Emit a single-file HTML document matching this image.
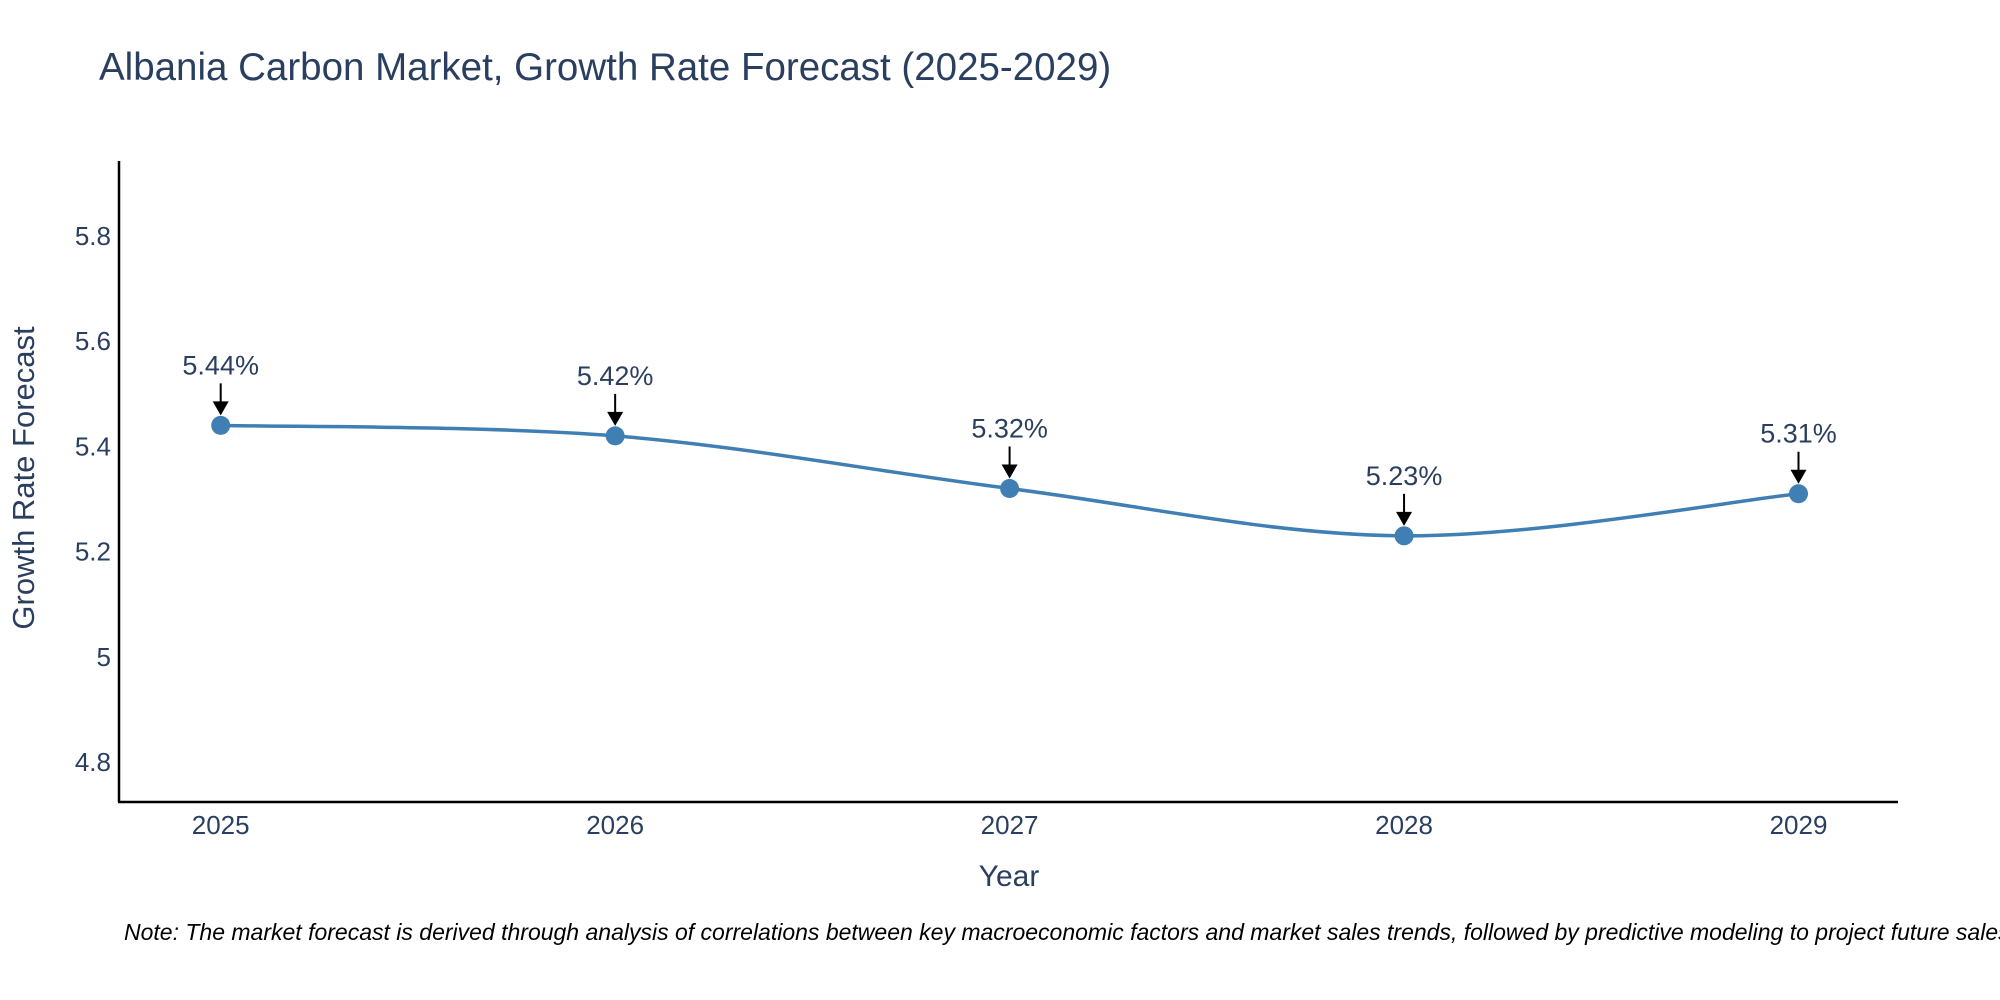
<!DOCTYPE html>
<html><head><meta charset="utf-8"><style>
body{margin:0;background:#fff;}
svg{display:block;font-family:"Liberation Sans",sans-serif;}
</style></head><body>
<svg width="2000" height="1000" viewBox="0 0 2000 1000">
<text x="99" y="80" font-size="38.5" fill="#2a3f5f">Albania Carbon Market, Growth Rate Forecast (2025-2029)</text>
<g id="yticks"></g><g id="xticks"></g>
<line x1="119" y1="161" x2="119" y2="802" stroke="#000" stroke-width="2.5"/>
<line x1="118" y1="802" x2="1898" y2="802" stroke="#000" stroke-width="2.5"/>
<path id="line" fill="none" stroke="#3f7fb3" stroke-width="3.5"/>
<g id="marks"></g>
<text x="26" y="478" font-size="31" fill="#2a3f5f" text-anchor="middle" transform="rotate(-90 26 478)" dominant-baseline="middle">Growth Rate Forecast</text>
<text x="1009" y="886" font-size="30" fill="#2a3f5f" text-anchor="middle">Year</text>
<text x="124" y="940" font-size="23" font-style="italic" fill="#000">Note: The market forecast is derived through analysis of correlations between key macroeconomic factors and market sales trends, followed by predictive modeling to project future sales.</text>
</svg>
<script>
const years=[2025,2026,2027,2028,2029];
const values=[5.44,5.42,5.32,5.23,5.31];
const labels=["5.44%","5.42%","5.32%","5.23%","5.31%"];
const yTicks=[4.8,5,5.2,5.4,5.6,5.8];
const yTickLabels=["4.8","5","5.2","5.4","5.6","5.8"];
const NS="http://www.w3.org/2000/svg";
function xs(v){return 220.7+(v-2025)*394.45;}
function ys(v){return 762-(v-4.8)*526;}
function mk(t,a,p){const e=document.createElementNS(NS,t);for(const k in a)e.setAttribute(k,a[k]);p.appendChild(e);return e;}
const yt=document.getElementById('yticks');
yTicks.forEach((v,i)=>{const t=mk('text',{x:111,y:ys(v)+9,'font-size':26,fill:'#2a3f5f','text-anchor':'end'},yt);


t.textContent=yTickLabels[i];});
const xt=document.getElementById('xticks');
years.forEach(v=>{const t=mk('text',{x:xs(v),y:834,'font-size':26,fill:'#2a3f5f','text-anchor':'middle'},xt);


t.textContent=v;});
const P=years.map((y,i)=>[xs(y),ys(values[i])]);
let d='M'+P[0][0]+','+P[0][1];
for(let i=0;i<P.length-1;i++){const p0=P[i-1]||P[i],p1=P[i],p2=P[i+1],p3=P[i+2]||P[i+1];const s=0.5/3;
d+=` C${p1[0]+(p2[0]-p0[0])*s},${p1[1]+(p2[1]-p0[1])*s} ${p2[0]-(p3[0]-p1[0])*s},${p2[1]-(p3[1]-p1[1])*s} ${p2[0]},${p2[1]}`;}
document.getElementById('line').setAttribute('d',d);
const mg=document.getElementById('marks');
P.forEach((p,i)=>{
const c=mk('circle',{cx:p[0],cy:p[1],r:9.5,fill:'#3f7fb3'},mg);


const l=mk('line',{x1:p[0],y1:p[1]-42,x2:p[0],y2:p[1]-22,stroke:'#000','stroke-width':2},mg);


const h=mk('polygon',{points:`${p[0]-8},${p[1]-24} ${p[0]+8},${p[1]-24} ${p[0]},${p[1]-10}`,fill:'#000'},mg);


const t=mk('text',{x:p[0],y:p[1]-51,'font-size':27,fill:'#2a3f5f','text-anchor':'middle'},mg);


t.textContent=labels[i];});
</script>
</body></html>
